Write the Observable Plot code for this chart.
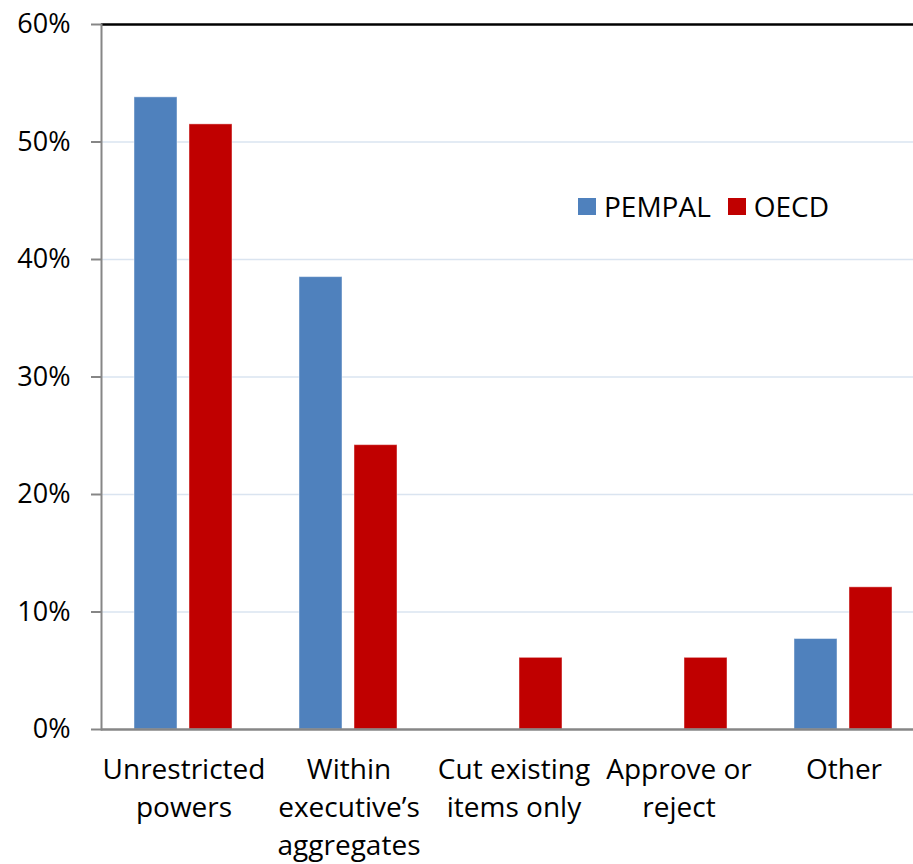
<!DOCTYPE html>
<html>
<head>
<meta charset="utf-8">
<script src="https://cdn.jsdelivr.net/npm/d3@7"></script>
<script src="https://cdn.jsdelivr.net/npm/@observablehq/plot@0.6"></script>
<style>
  html, body { margin: 0; padding: 0; background: #fff; overflow: hidden; }
  #wrap { position: relative; width: 913px; height: 864px; overflow: hidden; font-family: "Open Sans", sans-serif; }
  #wrap svg { max-width: none !important; display: block; }
  #legend { position: absolute; left: 578px; top: 193px; display: flex; align-items: center; font-size: 28px; line-height: 27px; color: #000; }
  .sw { width: 18px; height: 17px; display: inline-block; }
  .item { display: flex; align-items: center; }
</style>
</head>
<body>
<div id="wrap"><div id="legend"></div></div>
<script>
const categories = ["Unrestricted powers", "Within executive’s aggregates", "Cut existing items only", "Approve or reject", "Other"];
const tickLabels = ["Unrestricted\npowers", "Within\nexecutive’s\naggregates", "Cut existing\nitems only", "Approve or\nreject", "Other"];
const series = ["PEMPAL", "OECD"];
const pempal = [53.8, 38.5, 0, 0, 7.7];
const oecd = [51.5, 24.2, 6.1, 6.1, 12.1];
const colors = ["#4F81BD", "#C00000"];
const yTicks = [0, 10, 20, 30, 40, 50, 60];
const gridTicks = [10, 20, 30, 40, 50];

const data = [];
categories.forEach((c, i) => {
  data.push({category: c, series: "PEMPAL", value: pempal[i]});
  data.push({category: c, series: "OECD", value: oecd[i]});
});
const bars = data.filter(d => d.value > 0);
const labelOf = new Map(categories.map((c, i) => [c, tickLabels[i]]));

const chart = Plot.plot({
  width: 927,
  height: 864,
  marginLeft: 99,
  marginRight: 0,
  marginTop: 24,
  marginBottom: 135,
  style: {fontFamily: "'Open Sans', sans-serif", fontSize: "27px", background: "#fff", color: "#000", maxWidth: "none"},
  fx: {domain: categories, padding: 0, label: null},
  x: {domain: series, paddingInner: 0.216, paddingOuter: 0.6, axis: null},
  y: {domain: [0, 60], label: null},
  color: {domain: series, range: colors},
  marks: [
    Plot.ruleY(gridTicks, {stroke: "#DAE4F0", strokeWidth: 1.5}),
    Plot.barY(bars, {fx: "category", x: "series", y: "value", fill: "series", stroke: "#fff", strokeOpacity: 0.45, strokeWidth: 1}),
    Plot.ruleY([0], {stroke: "#868686", strokeWidth: 2.5}),
    Plot.ruleY([60], {stroke: "#000", strokeWidth: 2.5}),
    Plot.frame({anchor: "left", facetAnchor: "left", stroke: "#868686", strokeWidth: 2}),
    Plot.axisY({ticks: yTicks, tickSize: 10, tickPadding: 21, tickFormat: d => d + "%", stroke: "#868686", strokeWidth: 2, fill: "#000", fontSize: 27, label: null}),
    Plot.axisFx({anchor: "bottom", tickSize: 0, tickPadding: 23, fontSize: 28, lineHeight: 1.35, fill: "#000", tickFormat: d => labelOf.get(d), label: null})
  ]
});
document.getElementById("wrap").prepend(chart);

const legend = document.getElementById("legend");
series.forEach((s, i) => {
  const item = document.createElement("div");
  item.className = "item";
  item.style.marginRight = i === 0 ? "17px" : "0";
  const sw = document.createElement("span");
  sw.className = "sw";
  sw.style.background = colors[i];
  sw.style.marginRight = "8px";
  const t = document.createElement("span");
  t.textContent = s;
  item.appendChild(sw);
  item.appendChild(t);
  legend.appendChild(item);
});
</script>
</body>
</html>
